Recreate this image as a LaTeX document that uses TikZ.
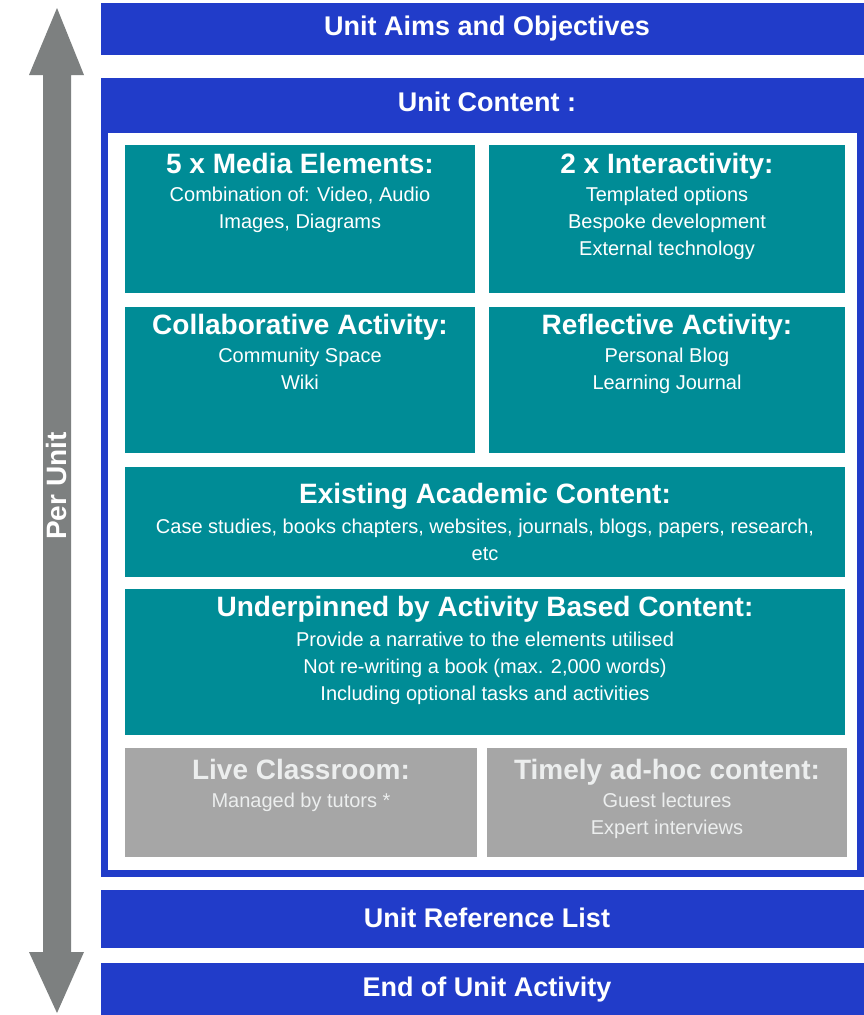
\documentclass[tikz,border=0pt]{standalone}
\usepackage{fontspec}
\setmainfont{Liberation Sans}
\begin{document}
\definecolor{barblue}{RGB}{33,60,201}
\definecolor{tealbox}{RGB}{0,140,150}
\definecolor{greybox}{RGB}{166,166,166}
\definecolor{arrowgrey}{RGB}{125,128,128}
\definecolor{paletext}{RGB}{236,238,238}
\begin{tikzpicture}[x=1pt,y=-1pt,
  bartext/.style={text=white,font=\bfseries\fontsize{27}{30}\selectfont},
  tiletext/.style={anchor=north,align=center,text=white,inner sep=0pt,
    font=\fontsize{20}{27}\selectfont},
  greytext/.style={tiletext,text=paletext},
]
\def\ttlf{\bfseries\fontsize{28}{30}\selectfont}
\useasboundingbox (0,0) rectangle (864,1015);
\fill[white] (0,0) rectangle (864,1015);

% double-headed "Per Unit" arrow
\fill[arrowgrey] (57,8) -- (84,75) -- (71,75) -- (71,952) -- (84,952)
  -- (57,1013) -- (29,952) -- (43,952) -- (43,75) -- (29,75) -- cycle;
\node[rotate=90,text=white,font=\bfseries\fontsize{28}{30}\selectfont] (perunit) at (56,486) {Per Unit};

% top bar
\fill[barblue] (101,3) rectangle (864,55);
\node[bartext] (aims) at (487,29) {Unit Aims and Objectives};

% unit content frame
\fill[barblue] (101,78) rectangle (864,877);
\fill[white] (108,133) rectangle (857,870);
\node[bartext] (content) at (487,102) {Unit Content :};

% teal tiles
\fill[tealbox] (125,145) rectangle (475,293);
\node[tiletext] (media) at (300,153) {{\ttlf 5 x Media Elements:}\\[1pt]Combination of: Video, Audio\\Images, Diagrams};

\fill[tealbox] (489,145) rectangle (845,293);
\node[tiletext] (inter) at (667,153) {{\ttlf 2 x Interactivity:}\\[1pt]Templated options\\Bespoke development\\External technology};

\fill[tealbox] (125,307) rectangle (475,453);
\node[tiletext] (collab) at (300,314) {{\ttlf Collaborative Activity:}\\[1pt]Community Space\\Wiki};

\fill[tealbox] (489,307) rectangle (845,453);
\node[tiletext] (reflect) at (667,314) {{\ttlf Reflective Activity:}\\[1pt]Personal Blog\\Learning Journal};

\fill[tealbox] (125,467) rectangle (845,577);
\node[tiletext] (existing) at (485,483) {{\ttlf Existing Academic Content:}\\[3pt]Case studies, books chapters, websites, journals, blogs, papers, research,\\etc};

\fill[tealbox] (125,589) rectangle (845,735);
\node[tiletext] (under) at (485,596) {{\ttlf Underpinned by Activity Based Content:}\\[3pt]Provide a narrative to the elements utilised\\Not re-writing a book (max. 2,000 words)\\Including optional tasks and activities};

% grey tiles
\fill[greybox] (125,748) rectangle (477,857);
\node[greytext] (live) at (301,759) {{\ttlf Live Classroom:}\\[1pt]Managed by tutors *};

\fill[greybox] (487,748) rectangle (847,857);
\node[greytext] (timely) at (667,759) {{\ttlf Timely ad-hoc content:}\\[1pt]Guest lectures\\Expert interviews};

% bottom bars
\fill[barblue] (101,890) rectangle (864,948);
\node[bartext] (reflist) at (487,918) {Unit Reference List};
\fill[barblue] (101,963) rectangle (864,1015);
\node[bartext] (endact) at (487,990) {End of Unit Activity};
\end{tikzpicture}
\end{document}
